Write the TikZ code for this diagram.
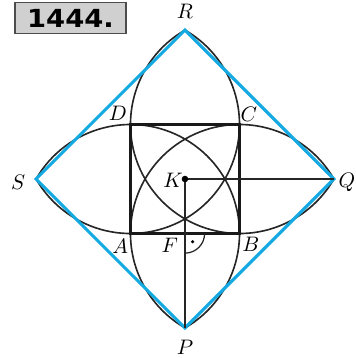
\documentclass[tikz,border=0pt]{standalone}
\usepackage{fontspec}
\newfontfamily\titlefont{DejaVu Sans}
\usetikzlibrary{calc, positioning}
\usepackage{xcolor}
\definecolor{sqblue}{RGB}{20,170,225}
\definecolor{boxgray}{RGB}{208,208,208}

\tikzset{
  figline/.style={black!85, line width=0.85pt},
  sqline/.style={black!90, line width=1.2pt},
  blueline/.style={sqblue, line width=1.6pt, line join=miter},
  lbl/.style={inner sep=0pt, font=\fontsize{11}{13}\selectfont}
}

\begin{document}
\begin{tikzpicture}
  \useasboundingbox (-3.394,-3.284) rectangle (3.119,3.284);

  % square and outer points
  \coordinate (A) at (-1,-1);
  \coordinate (B) at (1,-1);
  \coordinate (C) at (1,1);
  \coordinate (D) at (-1,1);
  \coordinate (K) at (0,0);
  \coordinate (F) at (0,-1);
  \coordinate (R) at (0,{1+sqrt(3)});
  \coordinate (Q) at ({1+sqrt(3)},0);
  \coordinate (P) at (0,{-1-sqrt(3)});
  \coordinate (S) at ({-1-sqrt(3)},0);

  % title box
  \node[draw=black!70, fill=boxgray, line width=0.6pt, minimum width=2.036cm,
        minimum height=0.58cm, inner sep=0pt] (title) at (-2.101,2.955)
        {\titlefont\bfseries\fontsize{13}{15}\selectfont\scalebox{1.1}[1]{1444.}};

  % arcs of radius AB round each vertex
  \draw[figline] (R) arc[start angle=60, end angle=-150, radius=2];
  \draw[figline] (R) arc[start angle=120, end angle=330, radius=2];
  \draw[figline] (S) arc[start angle=150, end angle=-60, radius=2];
  \draw[figline] (Q) arc[start angle=30, end angle=240, radius=2];

  % square ABCD
  \draw[sqline] (A) -- (B) -- (C) -- (D) -- cycle;

  % blue square PQRS
  \draw[blueline] (R) -- (Q) -- (P) -- (S) -- cycle;

  % segments from K
  \draw[figline] (K) -- (Q);
  \draw[figline] (K) -- (P);
  \fill (K) circle (0.06);

  % right angle at F
  \draw[figline, line width=0.65pt] ($(F)+(0.36,0)$) arc[start angle=0, end angle=-90, radius=0.36];
  \fill ($(F)+(0.14,-0.15)$) circle (0.032);

  % labels
  \node[lbl] (lR) at (0,3.08) {$R$};
  \node[lbl] (lS) at (-3.06,-0.07) {$S$};
  \node[lbl] (lQ) at (2.97,-0.07) {$Q$};
  \node[lbl] (lP) at (0,-3.08) {$P$};
  \node[lbl] (lD) at (-1.23,1.21) {$D$};
  \node[lbl] (lC) at (1.17,1.19) {$C$};
  \node[lbl] (lA) at (-1.19,-1.23) {$A$};
  \node[lbl] (lB) at (1.21,-1.19) {$B$};
  \node[lbl] (lF) at (-0.28,-1.21) {$F$};
  \node[lbl] (lK) at (-0.22,-0.02) {$K$};
\end{tikzpicture}
\end{document}
